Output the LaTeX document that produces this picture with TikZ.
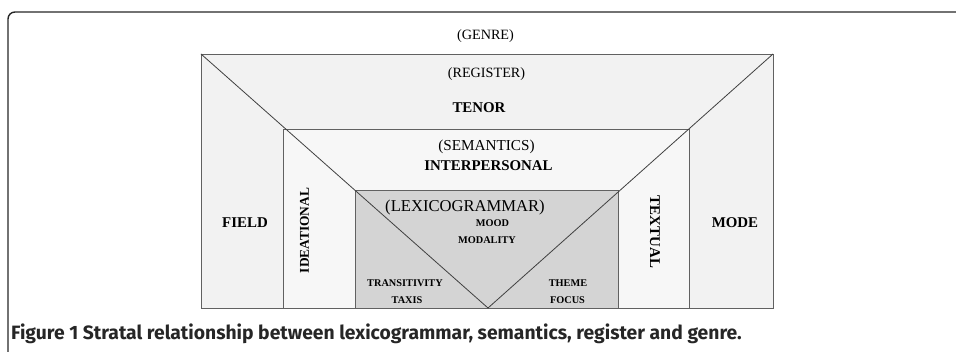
\documentclass[tikz,border=0pt]{standalone}
\usepackage{fontspec}
\setmainfont{Liberation Serif}
\newfontfamily\capfont{Fira Sans}

\begin{document}
\begin{tikzpicture}[
        x=1pt, y=-1pt,
        % Styles
        frame/.style={draw=black!85, line width=1.4pt, rounded corners=7pt},
        stratum/.style={draw=black!62, line width=0.8pt},
        stratumname/.style={anchor=base, inner sep=0pt, font=\fontsize{14.2}{16}\selectfont},
        metafunc/.style={anchor=base, inner sep=0pt, font=\fontsize{14.9}{17}\selectfont\bfseries},
        system/.style={anchor=base, inner sep=0pt, font=\fontsize{10.3}{12}\selectfont\bfseries},
        caption/.style={anchor=base west, inner sep=0pt, font=\capfont\bfseries\fontsize{19.3}{22}\selectfont, text=black!85}
    ]
    \useasboundingbox (0,0) rectangle (956,352);

    % ================= FRAME =================
    \draw[frame] (8,370) -- (8,12) -- (970,12);

    % ================= STRATA =================
    \coordinate (regNW) at (201,54);
    \coordinate (regNE) at (773,54);
    \coordinate (vertex) at (488,308);
    \filldraw[stratum, fill=black!5] (regNW) rectangle (773,308);
    \filldraw[stratum, fill=black!3] (283,129) rectangle (689,308);
    \filldraw[stratum, fill=black!17] (355,190) rectangle (618,308);
    \draw[stratum, draw=black!75] (regNW) -- (vertex) -- (regNE);

    % ================= LABELS =================
    \node[stratumname] (genre) at (485.5,40) {(GENRE)};
    \node[stratumname] (register) at (486.5,78) {(REGISTER)};
    \node[metafunc] (tenor) at (479,113) {TENOR};
    \node[stratumname, font=\fontsize{15.2}{17}\selectfont] (semantics) at (486.5,151) {(SEMANTICS)};
    \node[metafunc] (interpersonal) at (488.5,171) {INTERPERSONAL};
    \node[stratumname, font=\fontsize{16.6}{19}\selectfont] (lexicogrammar) at (465,212) {(LEXICOGRAMMAR)};
    \node[system] (mood) at (492.5,227) {MOOD};
    \node[system] (modality) at (487,244) {MODALITY};
    \node[system] (transitivity) at (405,287) {TRANSITIVITY};
    \node[system] (taxis) at (407,304) {TAXIS};
    \node[system] (theme) at (568,287) {THEME};
    \node[system] (focus) at (567.5,304) {FOCUS};
    \node[metafunc] (field) at (245,228) {FIELD};
    \node[metafunc] (mode) at (735,228) {MODE};
    \node[metafunc, anchor=center, rotate=90, font=\fontsize{13.4}{15}\selectfont\bfseries] (ideational) at (304.5,230.5) {IDEATIONAL};
    \node[metafunc, anchor=center, rotate=-90] (textual) at (655,232) {TEXTUAL};

    % ================= CAPTION =================
    \node[caption] (figcap) at (11,340) {Figure 1 Stratal relationship between lexicogrammar, semantics, register and genre.};

\end{tikzpicture}
\end{document}
